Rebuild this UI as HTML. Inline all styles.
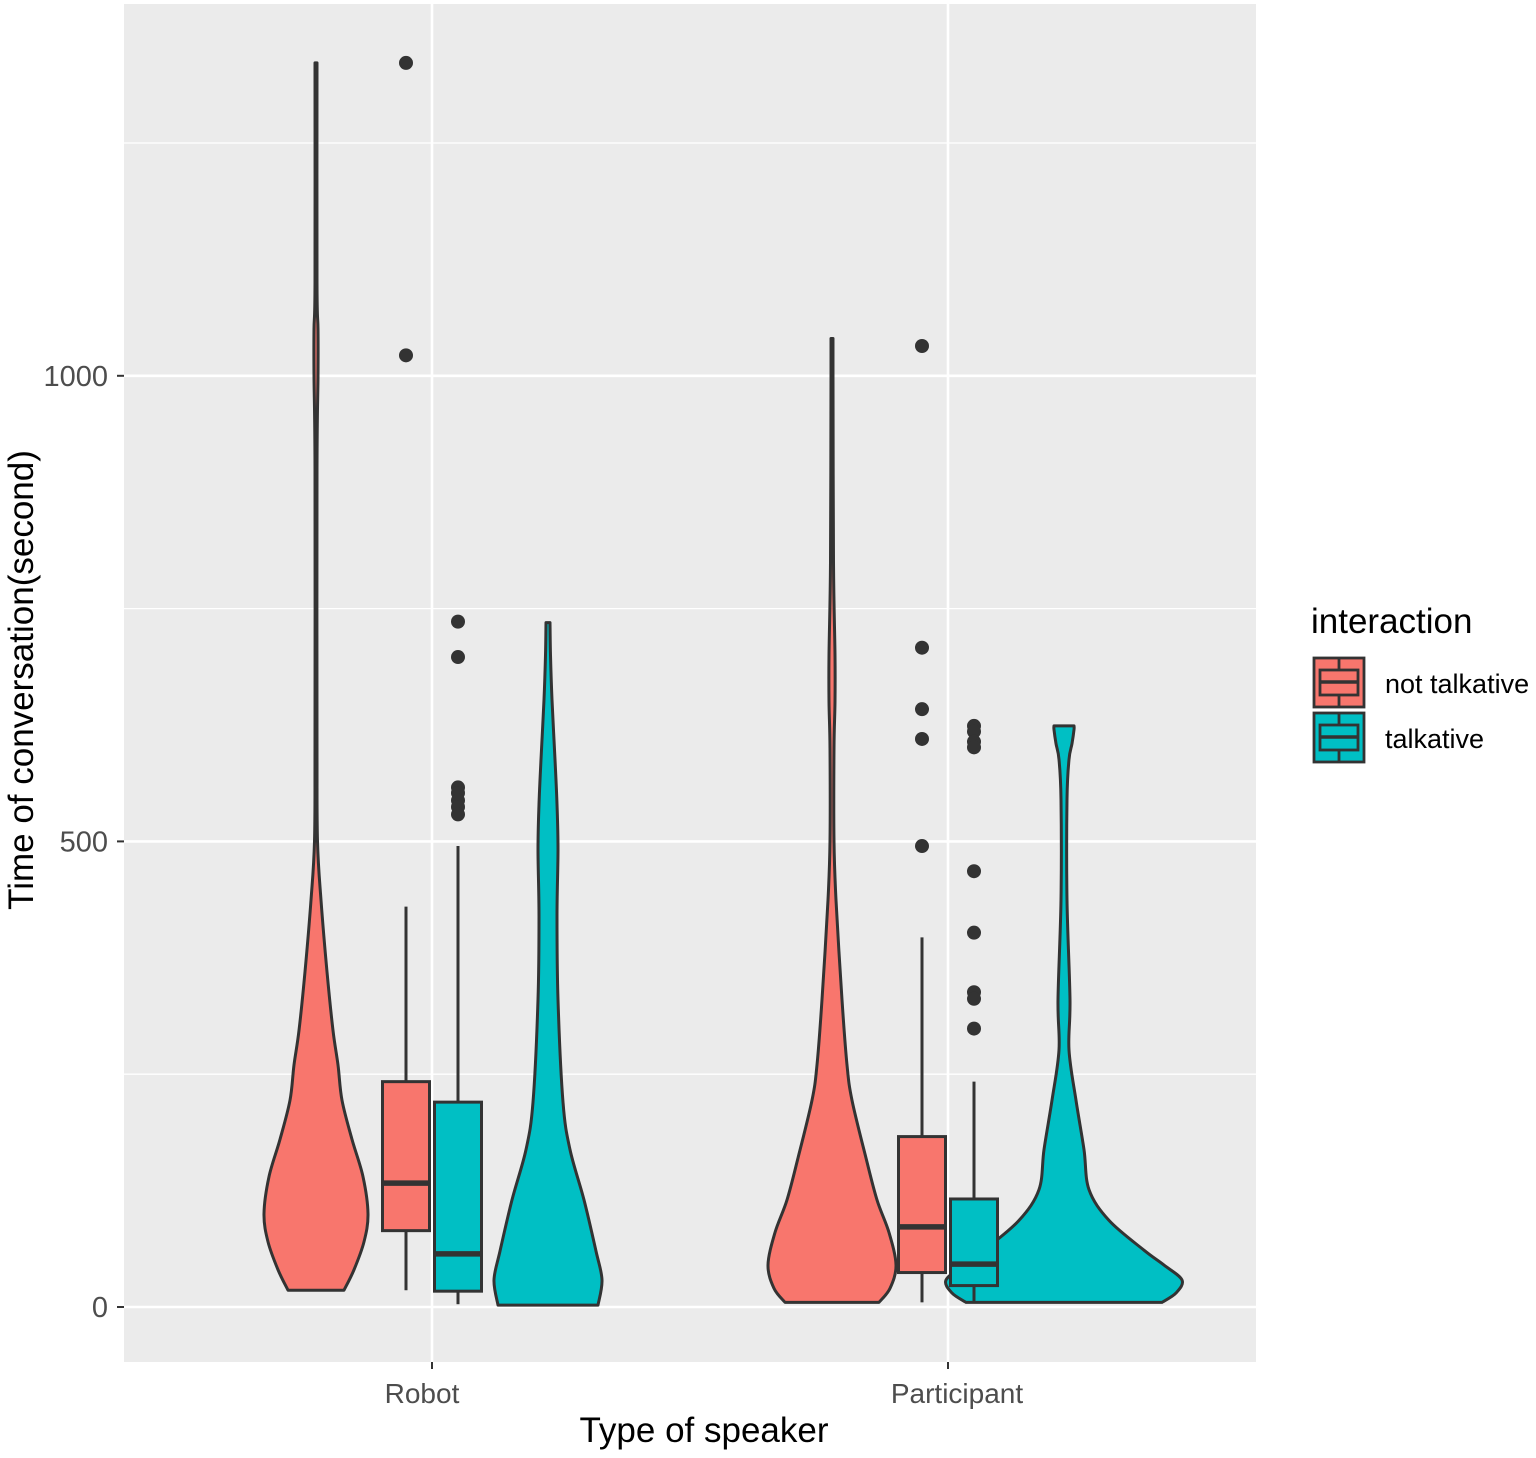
<!DOCTYPE html>
<html><head><meta charset="utf-8"><style>
html,body{margin:0;padding:0;background:#fff;}
svg text{font-family:"Liberation Sans",Arial,sans-serif;}
</style></head><body>
<svg id="chart" width="1536" height="1453" viewBox="0 0 1536 1453" xmlns="http://www.w3.org/2000/svg">
<rect x="124" y="4" width="1132" height="1358" fill="#EBEBEB"/>
<g id="grid"></g>
<g id="marks"></g>
<g id="axes"></g>
<text transform="translate(33,680) rotate(-90)" text-anchor="middle" font-size="35" fill="#000">Time of conversation(second)</text>
<text x="704" y="1442" text-anchor="middle" font-size="35" fill="#000">Type of speaker</text>
<g>
<text x="1311" y="633" font-size="35" fill="#000">interaction</text>
<g>
<rect x="1314" y="658" width="50" height="49" fill="#F8766D" stroke="#333" stroke-width="2.8"/>
<rect x="1320" y="670" width="38" height="25" fill="none" stroke="#333" stroke-width="2.8"/>
<line x1="1320" y1="682" x2="1358" y2="682" stroke="#333" stroke-width="3.5"/>
<line x1="1339" y1="658" x2="1339" y2="670" stroke="#333" stroke-width="2.8"/>
<line x1="1339" y1="695" x2="1339" y2="707" stroke="#333" stroke-width="2.8"/>
<text x="1385" y="693" font-size="27" fill="#000">not talkative</text>
</g>
<g>
<rect x="1314" y="713" width="50" height="49" fill="#00BFC4" stroke="#333" stroke-width="2.8"/>
<rect x="1320" y="725" width="38" height="25" fill="none" stroke="#333" stroke-width="2.8"/>
<line x1="1320" y1="737" x2="1358" y2="737" stroke="#333" stroke-width="3.5"/>
<line x1="1339" y1="713" x2="1339" y2="725" stroke="#333" stroke-width="2.8"/>
<line x1="1339" y1="750" x2="1339" y2="762" stroke="#333" stroke-width="2.8"/>
<text x="1385" y="748" font-size="27" fill="#000">talkative</text>
</g>
</g>
</svg>
<script>
const categories = ["Robot","Participant"];
const groups = ["not talkative","talkative"];
const yTicks = [0,500,1000];
const yMinor = [250,750,1250];
// violin densities: [value, relative half-width]
const violinRobotNT = [[18,28],[40,38],[70,48],[100,52],[140,47],[180,36],[222,26],[260,22],[297,17],[360,11],[437,5],[500,1.5],[600,1],[900,1],[1000,2],[1050,2],[1100,1],[1336,1]];
const violinRobotT = [[2,50],[29,54],[60,48],[115,36],[169,22],[220,15],[330,10],[420,9],[491,10],[540,9],[588,7],[652,4],[700,2.5],[735,2]];
const violinPartNT = [[5,47],[20,58],[45,64],[80,57],[115,45],[160,34],[222,20],[260,15],[330,10],[437,4],[500,2],[600,2],[650,3],[700,3],[800,1.5],[1000,1],[1040,1]];
const violinPartT = [[5,98],[15,112],[29,118],[45,100],[61,80],[93,45],[126,25],[169,20],[222,12],[276,5],[330,6],[437,3],[545,3],[588,5],[605,8],[620,10],[624,10]];
// boxes: [lowWhisker, q1, median, q3, highWhisker]
const boxRobotNT = [18,82,133,242,430];
const boxRobotT = [3,17,57,220,495];
const boxPartNT = [5,37,86,183,397];
const boxPartT = [5,23,46,116,242];
const outRobotNT = [1022,1336];
const outRobotT = [736,698,558,552,544,537,529];
const outPartNT = [1032,708,642,610,495];
const outPartT = [624,618,607,601,468,402,338,331,299];

const NS="http://www.w3.org/2000/svg";
const y = v => 1307 - v*0.9312;
const xCat = i => [432,948][i];
const colors = ["#F8766D","#00BFC4"];
const grid=document.getElementById('grid'), marks=document.getElementById('marks'), axes=document.getElementById('axes');
function mk(tag,attrs,parent){const e=document.createElementNS(NS,tag);for(const k in attrs)e.setAttribute(k,attrs[k]);parent.appendChild(e);return e;}

yMinor.forEach(v=>{const l=mk('line',{x1:124,x2:1256,y1:y(v),y2:y(v),stroke:'#fff','stroke-width':1.3},grid);

});
yTicks.forEach(v=>{const l=mk('line',{x1:124,x2:1256,y1:y(v),y2:y(v),stroke:'#fff','stroke-width':2.6},grid);


const t=mk('line',{x1:117,x2:124,y1:y(v),y2:y(v),stroke:'#333','stroke-width':2},axes);


const tx=mk('text',{x:108,y:y(v)+10,'text-anchor':'end','font-size':29,fill:'#4D4D4D'},axes);tx.textContent=v;

});
categories.forEach((c,i)=>{const l=mk('line',{x1:xCat(i),x2:xCat(i),y1:4,y2:1362,stroke:'#fff','stroke-width':2.6},grid);


const t=mk('line',{x1:xCat(i),x2:xCat(i),y1:1362,y2:1369,stroke:'#333','stroke-width':2},axes);


const tx=mk('text',{x:xCat(i)-10+(i*19),y:1403,'text-anchor':'middle','font-size':28,fill:'#4D4D4D'},axes);tx.textContent=c;

});

function smooth(pts){let d='M'+pts[0][0]+','+pts[0][1];
for(let i=0;i<pts.length-1;i++){const p0=pts[Math.max(0,i-1)],p1=pts[i],p2=pts[i+1],p3=pts[Math.min(pts.length-1,i+2)];
const c1=[p1[0]+(p2[0]-p0[0])/6,p1[1]+(p2[1]-p0[1])/6],c2=[p2[0]-(p3[0]-p1[0])/6,p2[1]-(p3[1]-p1[1])/6];
d+=' C'+c1+' '+c2+' '+p2;}return d;}
function violin(dens,cx,color,name){const right=dens.map(p=>[cx+p[1],y(p[0])]);const left=dens.slice().reverse().map(p=>[cx-p[1],y(p[0])]);
let d=smooth(right);d+=' L'+left[0][0]+','+left[0][1]+smooth(left).replace(/^M[^C]*/,' ')+' Z';
const e=mk('path',{d:d,fill:color,stroke:'#333','stroke-width':3,'stroke-linejoin':'round'},marks);

}
function box(b,outs,cx,color,name){const g=mk('g',{},marks);


mk('line',{x1:cx,x2:cx,y1:y(b[0]),y2:y(b[1]),stroke:'#333','stroke-width':3},g);
mk('line',{x1:cx,x2:cx,y1:y(b[3]),y2:y(b[4]),stroke:'#333','stroke-width':3},g);
mk('rect',{x:cx-23.5,y:y(b[3]),width:47,height:y(b[1])-y(b[3]),fill:color,stroke:'#333','stroke-width':3},g);
mk('line',{x1:cx-23.5,x2:cx+23.5,y1:y(b[2]),y2:y(b[2]),stroke:'#333','stroke-width':5.5},g);
outs.forEach(v=>{const c=mk('circle',{cx:cx,cy:y(v),r:7,fill:'#333'},g);

});}
violin(violinRobotNT,xCat(0)-116,colors[0],'violin-robot-not-talkative');
violin(violinRobotT,xCat(0)+116,colors[1],'violin-robot-talkative');
violin(violinPartNT,xCat(1)-116,colors[0],'violin-participant-not-talkative');
violin(violinPartT,xCat(1)+116,colors[1],'violin-participant-talkative');
box(boxRobotNT,outRobotNT,xCat(0)-26,colors[0],'box-robot-not-talkative');
box(boxRobotT,outRobotT,xCat(0)+26,colors[1],'box-robot-talkative');
box(boxPartNT,outPartNT,xCat(1)-26,colors[0],'box-participant-not-talkative');
box(boxPartT,outPartT,xCat(1)+26,colors[1],'box-participant-talkative');
</script>
</body></html>
